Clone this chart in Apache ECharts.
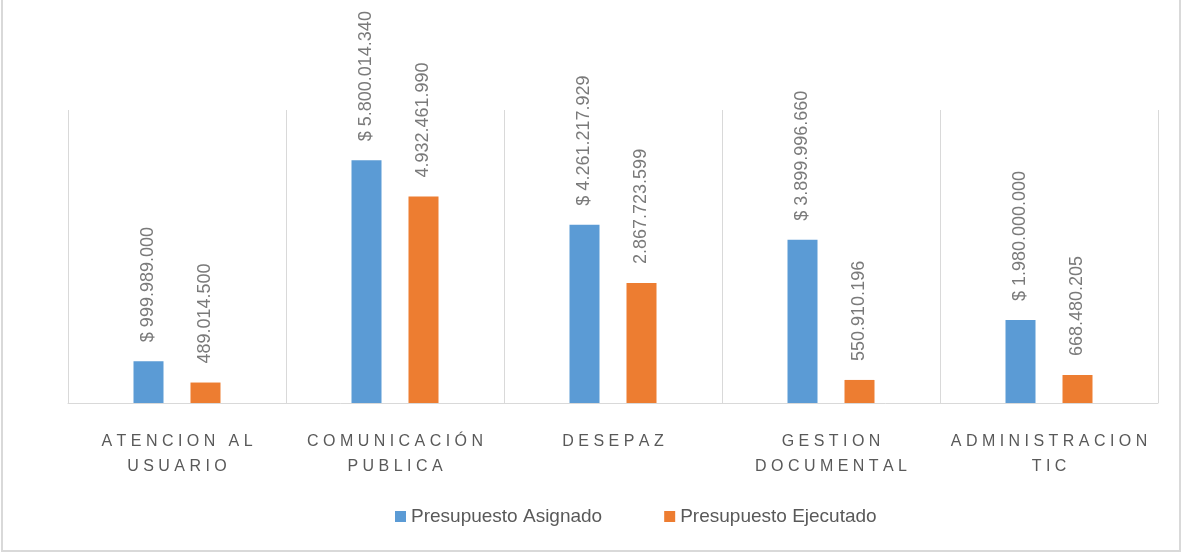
<!DOCTYPE html>
<html lang="es">
<head>
    <meta charset="UTF-8">
    <title>Presupuesto</title>
    <style>
        html, body { margin: 0; padding: 0; background: #fff; }
        #root { width: 1181px; height: 552px; }
    </style>
</head>
<body>
    <div id="root"></div>
    <script src="https://cdn.jsdelivr.net/npm/echarts@6/dist/echarts.min.js"></script>
    <script>
        var categories = ["ATENCION AL\nUSUARIO", "COMUNICACIÓN\nPUBLICA", "DESEPAZ", "GESTION\nDOCUMENTAL", "ADMINISTRACION\nTIC"];
        var asignado = [999989000, 5800014340, 4261217929, 3899996660, 1980000000];
        var ejecutado = [489014500, 4932461990, 2867723599, 550910196, 668480205];
        var seriesNames = ["Presupuesto Asignado", "Presupuesto Ejecutado"];

        // 1234567 -> "1.234.567"
        function dots(v) {
            return String(v).replace(/\B(?=(\d{3})+(?!\d))/g, ".");
        }
        // spread letters like the original's character spacing
        function spaced(s) {
            return s.split("\n").map(function (line) {
                return line.split("").join(" ");
            }).join("\n");
        }

        var labelBase = {
            show: true,
            position: "top",
            rotate: 90,
            align: "left",
            verticalAlign: "middle",
            distance: 19,
            color: "#7a7a7a",
            fontSize: 18,
            fontFamily: "Liberation Sans"
        };

        var chart = echarts.init(document.getElementById("root"));
        chart.setOption({
            animation: false,
            color: ["#5B9BD5", "#ED7D31"],
            grid: { left: 68, right: 23, top: 110, bottom: 149 },
            legend: {
                data: seriesNames,
                left: 390,
                top: 502,
                itemWidth: 11,
                itemHeight: 11,
                itemGap: 62,
                icon: "rect",
                textStyle: { color: "#595959", fontSize: 19, fontFamily: "Liberation Sans" }
            },
            graphic: [{
                type: "rect",
                shape: { x: 2, y: -5, width: 1178, height: 556 },
                style: { fill: "none", stroke: "#d9d9d9", lineWidth: 2 },
                silent: true
            }],
            xAxis: {
                type: "category",
                data: categories,
                axisLine: { lineStyle: { color: "#d9d9d9", width: 1 } },
                axisTick: { show: false },
                splitLine: { show: true, lineStyle: { color: "#d9d9d9", width: 1 } },
                axisLabel: {
                    formatter: spaced,
                    color: "#595959",
                    fontSize: 16,
                    lineHeight: 25,
                    margin: 26,
                    fontFamily: "Liberation Sans",
                    interval: 0
                }
            },
            yAxis: {
                type: "value",
                min: 0,
                max: 7000000000,
                show: false
            },
            series: [
                {
                    name: seriesNames[0],
                    type: "bar",
                    data: asignado,
                    barWidth: 30,
                    barGap: "90%",
                    label: Object.assign({}, labelBase, {
                        formatter: function (p) { return "$ " + dots(p.value); }
                    })
                },
                {
                    name: seriesNames[1],
                    type: "bar",
                    data: ejecutado,
                    barWidth: 30,
                    label: Object.assign({}, labelBase, {
                        formatter: function (p) { return dots(p.value); }
                    })
                }
            ]
        });
    </script>
</body>
</html>
